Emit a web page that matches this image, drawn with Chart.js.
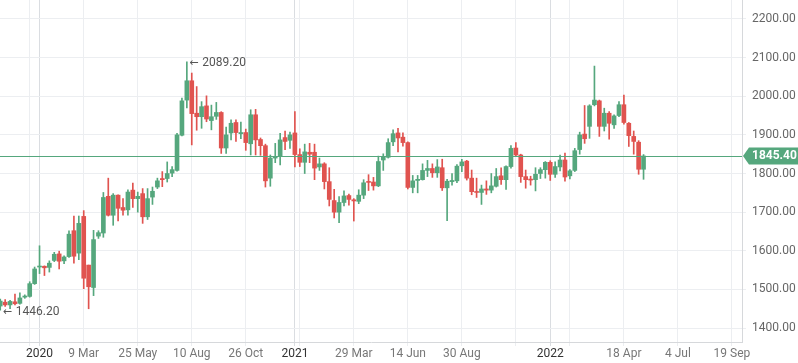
<!DOCTYPE html>
<html>
<head>
<meta charset="utf-8">
<title>Gold weekly</title>
<script src="https://cdn.jsdelivr.net/npm/chart.js@4.4.1/dist/chart.umd.min.js"></script>
<style>
    html, body { margin: 0; padding: 0; background: #fff; }
    #wrap { width: 798px; height: 363px; }
</style>
</head>
<body>
<div id="wrap"><canvas id="goldChart" width="798" height="363"></canvas></div>
<script>
// weekly candles, x = weeks counted from the week of 6 Jan 2020
const firstWeek = -8; // week of 11 Nov 2019

const opens = [
    1457, 1467, 1460, 1468, 1464, 1480, 1482, 1515,
    1558, 1560, 1557, 1575, 1592, 1574, 1585, 1652, 1594, 1689, 1563, 1505, 1638, 1646, 1741, 1692, 1744, 1712,
    1706, 1757, 1735, 1748, 1688, 1739, 1765, 1787, 1787, 1801, 1808, 1899, 1990, 2040, 1956, 1947, 1975, 1937,
    1948, 1958, 1866, 1905, 1932, 1903, 1906, 1877, 1952, 1888, 1872, 1788, 1840, 1845, 1893, 1886,
    1905, 1849, 1829, 1855, 1855, 1817, 1825, 1779, 1730, 1700, 1725, 1743, 1732, 1728, 1744, 1779, 1778,
    1768, 1835, 1842, 1882, 1905, 1894, 1880, 1764, 1782, 1784, 1808, 1813, 1802, 1815, 1763, 1779, 1781,
    1820, 1832, 1788, 1753, 1751, 1760, 1757, 1767, 1794, 1784, 1818, 1866, 1848, 1792, 1785, 1784, 1800, 1810,
    1829, 1798, 1817, 1835, 1794, 1808, 1862, 1902, 1922, 1978, 1988, 1922, 1956, 1926, 1950, 1978, 1930,
    1896, 1881, 1811
];
const highs = [
    1475, 1474, 1472, 1488, 1491, 1486, 1520, 1558,
    1613, 1561, 1574, 1596, 1599, 1587, 1652, 1690, 1690, 1704, 1563, 1653, 1652, 1751, 1788, 1748, 1745, 1735,
    1758, 1775, 1752, 1761, 1761, 1765, 1788, 1805, 1830, 1818, 1904, 1995, 2089.2, 2060, 2025, 1986, 2001, 1977,
    1984, 1960, 1920, 1939, 1939, 1933, 1915, 1965, 1966, 1892, 1876, 1848, 1878, 1904, 1910, 1907,
    1960, 1864, 1876, 1878, 1876, 1840, 1828, 1815, 1759, 1740, 1755, 1747, 1735, 1758, 1784, 1797, 1790,
    1845, 1851, 1890, 1913, 1917, 1905, 1882, 1795, 1795, 1825, 1834, 1825, 1836, 1837, 1785, 1800, 1823,
    1837, 1834, 1809, 1788, 1770, 1781, 1800, 1813, 1815, 1820, 1872, 1880, 1850, 1809, 1793, 1815, 1815, 1831,
    1833, 1830, 1848, 1853, 1810, 1865, 1907, 1976, 1978, 2078, 1990, 1969, 1960, 1952, 1986, 2003, 1932,
    1910, 1885, 1849
];
const lows = [
    1446.2, 1456, 1450, 1460, 1462, 1477, 1480, 1513,
    1541, 1536, 1545, 1572, 1553, 1567, 1583, 1568, 1577, 1502, 1450, 1484, 1632, 1635, 1690, 1666, 1677, 1692,
    1692, 1712, 1700, 1671, 1681, 1720, 1761, 1766, 1778, 1792, 1806, 1897, 1970, 1874, 1912, 1917, 1934, 1913,
    1940, 1852, 1852, 1887, 1883, 1890, 1860, 1848, 1848, 1847, 1765, 1767, 1828, 1822, 1862, 1865,
    1817, 1818, 1800, 1828, 1784, 1808, 1760, 1716, 1685, 1673, 1716, 1718, 1677, 1722, 1735, 1756, 1757,
    1766, 1808, 1840, 1872, 1856, 1871, 1760, 1750, 1750, 1783, 1792, 1790, 1790, 1756, 1678, 1770, 1776,
    1805, 1783, 1745, 1738, 1720, 1746, 1750, 1765, 1772, 1759, 1814, 1846, 1777, 1762, 1770, 1755, 1787, 1788,
    1782, 1790, 1807, 1780, 1786, 1805, 1850, 1878, 1891, 1975, 1896, 1910, 1889, 1917, 1947, 1928, 1870,
    1850, 1798, 1785
];
const closes = [
    1470, 1460, 1469, 1463, 1478, 1483, 1515, 1553,
    1560, 1556, 1568, 1591, 1573, 1584, 1643, 1586, 1671, 1529, 1507, 1629, 1647, 1738, 1692, 1744, 1710, 1705,
    1752, 1735, 1741, 1688, 1735, 1754, 1781, 1784, 1800, 1810, 1900, 1988, 2040, 1955, 1947, 1973, 1941, 1947,
    1958, 1866, 1900, 1930, 1906, 1906, 1880, 1952, 1887, 1872, 1781, 1840, 1843, 1887, 1883, 1900,
    1849, 1829, 1856, 1850, 1814, 1825, 1779, 1733, 1700, 1725, 1742, 1733, 1729, 1744, 1776, 1777, 1768,
    1831, 1844, 1880, 1903, 1892, 1880, 1764, 1781, 1785, 1808, 1813, 1802, 1817, 1763, 1780, 1782, 1819,
    1830, 1788, 1753, 1751, 1760, 1757, 1768, 1792, 1784, 1818, 1865, 1848, 1792, 1784, 1783, 1798, 1810, 1829,
    1798, 1818, 1835, 1791, 1807, 1859, 1900, 1890, 1975, 1990, 1922, 1956, 1930, 1949, 1978, 1932, 1898,
    1883, 1811, 1845.4
];
const lastPrice = 1845.4;

const xTicks = [-2, 0, 9, 20, 31, 42, 52, 53, 64, 75, 86, 97, 104, 108, 119, 130, 141];
const xLabels = ['', '2020', '9 Mar', '25 May', '10 Aug', '26 Oct', '2021', '', '29 Mar', '14 Jun', '30 Aug', '', '2022', '', '18 Apr', '4 Jul', '19 Sep'];
const yearTicks = [0, 52, 104];
const yTicks = [1400, 1500, 1600, 1700, 1800, 1900, 2000, 2100, 2200];

const upColor = '#55a77d';
const downColor = '#e0534f';
const fontName = '"Liberation Sans Narrow", "Roboto", sans-serif';

document.addEventListener('DOMContentLoaded', function() {

    const weeks = opens.map((o, i) => firstWeek + i);
    const colors = closes.map((c, i) => c >= opens[i] ? upColor : downColor);
    const bodies = weeks.map((w, i) => ({ x: w, y: [opens[i], closes[i]] }));
    const wicks = weeks.map((w, i) => ({ x: w, y: [lows[i], highs[i]] }));

    // small "<- value" note next to a candle
    function note(ctx, x, y, value) {
        ctx.fillStyle = '#555';
        ctx.textAlign = 'left';
        ctx.textBaseline = 'middle';
        ctx.font = '11px "DejaVu Sans", sans-serif';
        ctx.fillText('\u2190', x + 2.5, y);
        ctx.font = '12px ' + fontName;
        ctx.fillText(value.toFixed(2), x + 15.5, y);
    }

    // last price line, price tag, max / min notes
    const markers = {
        id: 'markers',
        afterDatasetsDraw(chart) {
            const ctx = chart.ctx;
            const area = chart.chartArea;
            const xs = chart.scales.x;
            const ys = chart.scales.y;
            ctx.save();

            const py = Math.round(ys.getPixelForValue(lastPrice)) + 0.5;
            ctx.strokeStyle = upColor;
            ctx.lineWidth = 1;
            ctx.beginPath();
            ctx.moveTo(area.left, py);
            ctx.lineTo(area.right, py);
            ctx.stroke();

            let hi = 0, lo = 0;
            highs.forEach((h, i) => { if (h > highs[hi]) hi = i; });
            lows.forEach((l, i) => { if (l < lows[lo]) lo = i; });
            note(ctx, xs.getPixelForValue(weeks[hi]), ys.getPixelForValue(highs[hi]) + 1.5, highs[hi]);
            note(ctx, xs.getPixelForValue(weeks[lo]), ys.getPixelForValue(lows[lo]) + 2, lows[lo]);
            ctx.restore();
        },
        afterDraw(chart) {
            const ctx = chart.ctx;
            const area = chart.chartArea;
            const py = chart.scales.y.getPixelForValue(lastPrice);
            const left = area.right + 1;
            const right = chart.width;
            const h = 8.5;
            ctx.save();
            ctx.fillStyle = upColor;
            ctx.beginPath();
            ctx.moveTo(left, py);
            ctx.lineTo(left + 6, py - h);
            ctx.lineTo(right, py - h);
            ctx.lineTo(right, py + h);
            ctx.lineTo(left + 6, py + h);
            ctx.closePath();
            ctx.fill();
            ctx.fillStyle = '#fff';
            ctx.font = 'bold 12px ' + fontName;
            ctx.textAlign = 'left';
            ctx.textBaseline = 'middle';
            ctx.fillText(lastPrice.toFixed(2), area.right + 10, py + 0.5);
            ctx.restore();
        }
    };

    const config = {
        type: 'bar',
        data: {
            datasets: [{
                label: 'body',
                data: bodies,
                backgroundColor: colors,
                barThickness: 4,
                minBarLength: 1,
                grouped: false
            }, {
                label: 'wick',
                data: wicks,
                backgroundColor: colors,
                barThickness: 1,
                grouped: false
            }]
        },
        options: {
            responsive: false,
            animation: false,
            layout: { padding: 0 },
            plugins: {
                legend: { display: false },
                tooltip: { enabled: false }
            },
            scales: {
                x: {
                    type: 'linear',
                    min: -8.05,
                    max: 143.05,
                    offset: false,
                    afterBuildTicks: function(scale) {
                        scale.ticks = xTicks.map(v => ({ value: v }));
                    },
                    afterFit: function(scale) {
                        scale.height = 21;
                        scale.paddingLeft = 0;
                        scale.paddingRight = 0;
                    },
                    grid: {
                        offset: false,
                        tickLength: 4,
                        color: ctx => ctx.tick && yearTicks.includes(ctx.tick.value) ? '#dadde1' : '#eceef1'
                    },
                    border: { color: '#d6d8db' },
                    ticks: {
                        autoSkip: false,
                        maxRotation: 0,
                        padding: 1,
                        font: { family: fontName, size: 12 },
                        color: ctx => yearTicks.includes(ctx.tick.value) ? '#333' : '#777',
                        callback: function(value) {
                            const k = xTicks.indexOf(value);
                            return k >= 0 ? xLabels[k] : '';
                        }
                    }
                },
                y: {
                    position: 'right',
                    min: 1364,
                    max: 2249,
                    afterBuildTicks: function(scale) {
                        scale.ticks = yTicks.map(v => ({ value: v }));
                    },
                    afterFit: function(scale) {
                        scale.width = 56;
                        scale.paddingTop = 0;
                        scale.paddingBottom = 0;
                    },
                    grid: {
                        tickLength: 4,
                        color: '#eceef1'
                    },
                    border: { color: '#d6d8db' },
                    ticks: {
                        padding: 6,
                        font: { family: fontName, size: 12 },
                        color: '#666',
                        callback: value => value.toFixed(2)
                    }
                }
            }
        },
        plugins: [markers]
    };

    const goldChart = new Chart(document.getElementById('goldChart'), config);
});
</script>
</body>
</html>
